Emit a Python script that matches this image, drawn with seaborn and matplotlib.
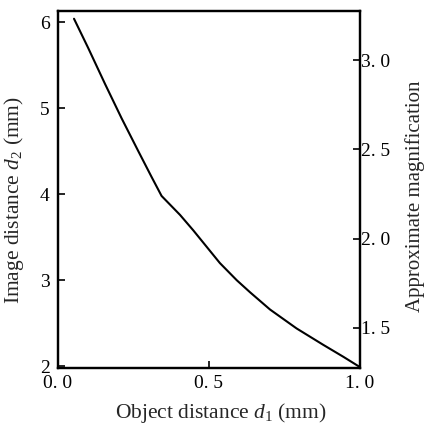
import matplotlib
matplotlib.use("Agg")
import matplotlib.pyplot as plt
import seaborn as sns
import pandas as pd

# data
object_distance = [0.053, 0.100, 0.156, 0.211, 0.266, 0.310, 0.343, 0.404, 0.448, 0.492,
                   0.536, 0.592, 0.636, 0.702, 0.790, 0.878, 0.945, 1.0]
image_distance = [6.04, 5.70, 5.28, 4.88, 4.50, 4.20, 3.98, 3.76, 3.58, 3.39,
                  3.20, 3.00, 2.86, 2.66, 2.44, 2.25, 2.11, 1.99]
x_ticks = [0.0, 0.5, 1.0]
x_tick_labels = ["0. 0", "0. 5", "1. 0"]
left_ticks = [2, 3, 4, 5, 6]
right_ticks = [1.5, 2.0, 2.5, 3.0]
right_tick_labels = ["1. 5", "2. 0", "2. 5", "3. 0"]

df = pd.DataFrame({"d1": object_distance, "d2": image_distance})

sns.set_style("ticks")
plt.rcParams["font.family"] = ["Liberation Serif", "DejaVu Serif"]
plt.rcParams["mathtext.fontset"] = "custom"
plt.rcParams["mathtext.it"] = "Liberation Serif:italic"
plt.rcParams["mathtext.rm"] = "Liberation Serif"

fig = plt.figure(figsize=(4.25, 4.24), dpi=100)
ax = fig.add_axes([58/425, 1 - 368/424, (360-58)/425, (368-11)/424])

sns.lineplot(data=df, x="d1", y="d2", ax=ax, color="black", linewidth=1.5)

ax.set_xlim(0, 1.0)
ax.set_ylim(1.98, 6.13)
ax.set_xticks(x_ticks)
ax.set_xticklabels(x_tick_labels)
ax.set_yticks(left_ticks)
ax.set_xlabel("Object distance $d_1$ (mm)", fontsize=15.5)
ax.set_ylabel("Image distance $d_2$ (mm)", fontsize=15.5)
ax.xaxis.set_label_coords(0.54, -0.093)
ax.yaxis.set_label_coords(-0.107, 0.47)
ax.tick_params(axis="x", direction="in", length=5, width=1.2, labelsize=14, pad=5, colors="black")
ax.tick_params(axis="y", direction="in", length=5, width=1.2, labelsize=14, pad=6, colors="black")

ax2 = ax.twinx()
ax2.set_ylim(1.275, 3.275)
ax2.set_yticks(right_ticks)
ax2.set_yticklabels(right_tick_labels)
ax2.tick_params(direction="in", length=5, width=1.2, labelsize=14, pad=1, colors="black")
ax2.set_ylabel("Approximate magnification", fontsize=15, rotation=90)
ax2.yaxis.set_label_coords(1.148, 0.48)

for a in (ax, ax2):
    for s in a.spines.values():
        s.set_linewidth(1.6)
        s.set_color("black")
        s.set_visible(True)

fig.savefig("out.png", dpi=100)
